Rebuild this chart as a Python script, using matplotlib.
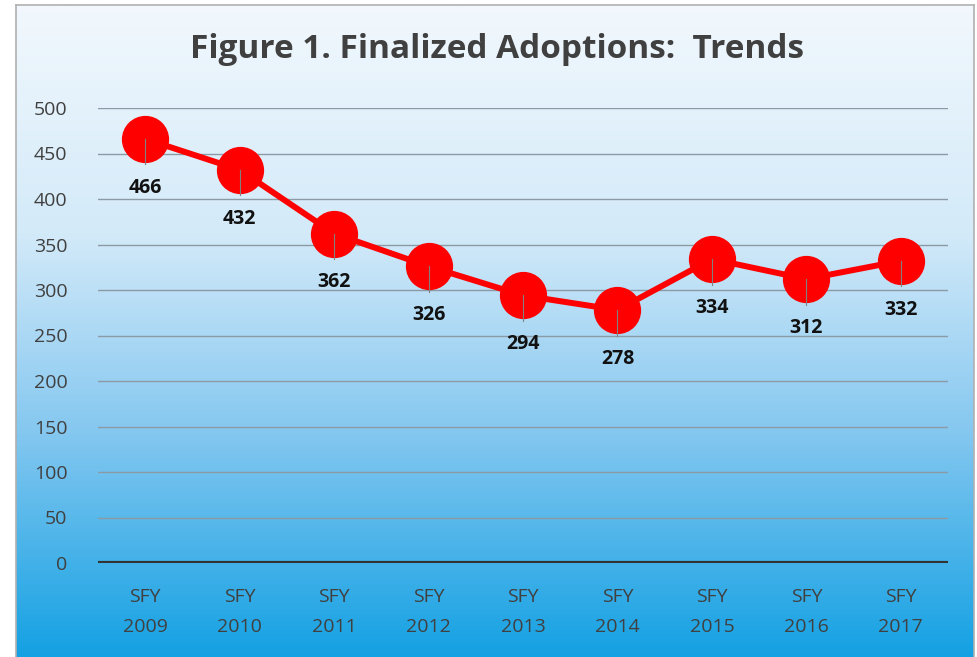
import numpy as np
import matplotlib.pyplot as plt
from matplotlib.colors import LinearSegmentedColormap

#--- data
years  = ['2009', '2010', '2011', '2012', '2013', '2014', '2015', '2016', '2017']
labels = ['SFY\n' + y for y in years]
adopt  = [466, 432, 362, 326, 294, 278, 334, 312, 332]
yticks = [0, 50, 100, 150, 200, 250, 300, 350, 400, 450, 500]

W, H = 977, 657
fig = plt.figure(figsize=(W/100, H/100), dpi=100)
fig.patch.set_facecolor('white')
plt.rcParams['font.family'] = ['Open Sans', 'DejaVu Sans']

# gradient background of the chart area
bg = fig.add_axes([16/W, 0, (974-16)/W, (H-5)/H])
cmap = LinearSegmentedColormap.from_list('bg', [(0.0, '#f2f8fd'), (0.35, '#d3eaf9'),
                                                (0.65, '#86c8f0'), (1.0, '#14a1e3')])
grad = np.linspace(0, 1, 256).reshape(-1, 1)
bg.imshow(grad, aspect='auto', cmap=cmap, extent=[0, 1, 0, 1], origin='upper')
bg.set_xlim(0, 1); bg.set_ylim(0, 1)
bg.set_xticks([]); bg.set_yticks([])
for s in bg.spines.values():
    s.set_color('#b0b0b0')
    s.set_linewidth(1.2)
bg.spines['bottom'].set_visible(False)

# main plot
ax = fig.add_axes([98/W, 1 - 563/H, (948-98)/W, (563-108)/H])
ax.set_facecolor('none')
x = np.arange(len(years))
ax.set_xlim(-0.5, len(years) - 0.5)
ax.set_ylim(0, 500)
ax.set_yticks(yticks)
for t in yticks[1:]:
    ax.axhline(t, color='#8c9aa6', lw=1.0, zorder=1)
ax.axhline(0, color='#333333', lw=3, zorder=2)

ax.plot(x, adopt, color='#ff0000', lw=4.3, marker='o', ms=33,
        markerfacecolor='#ff0000', markeredgecolor='#ff0000', zorder=3)

for xi, v in zip(x, adopt):
    ax.plot([xi, xi], [v, v - 28], color='#808080', lw=0.8, zorder=4)
    ax.annotate(str(v), (xi, v), xytext=(0, -28), textcoords='offset points',
                ha='center', va='top', fontsize=14, fontweight='bold',
                color='#111111', zorder=5)

ax.set_xticks(x)
ax.set_xticklabels(labels, fontsize=14, color='#404040', linespacing=1.85)
ax.tick_params(axis='x', length=0, pad=18)
ax.tick_params(axis='y', length=0, pad=22, labelsize=14, labelcolor='#404040')
for s in ax.spines.values():
    s.set_visible(False)

fig.text(497/W, 1 - 50/H, 'Figure 1. Finalized Adoptions:  Trends', ha='center',
         va='center', fontsize=24, fontweight='bold', color='#404040')

fig.savefig('out.png', dpi=100)
